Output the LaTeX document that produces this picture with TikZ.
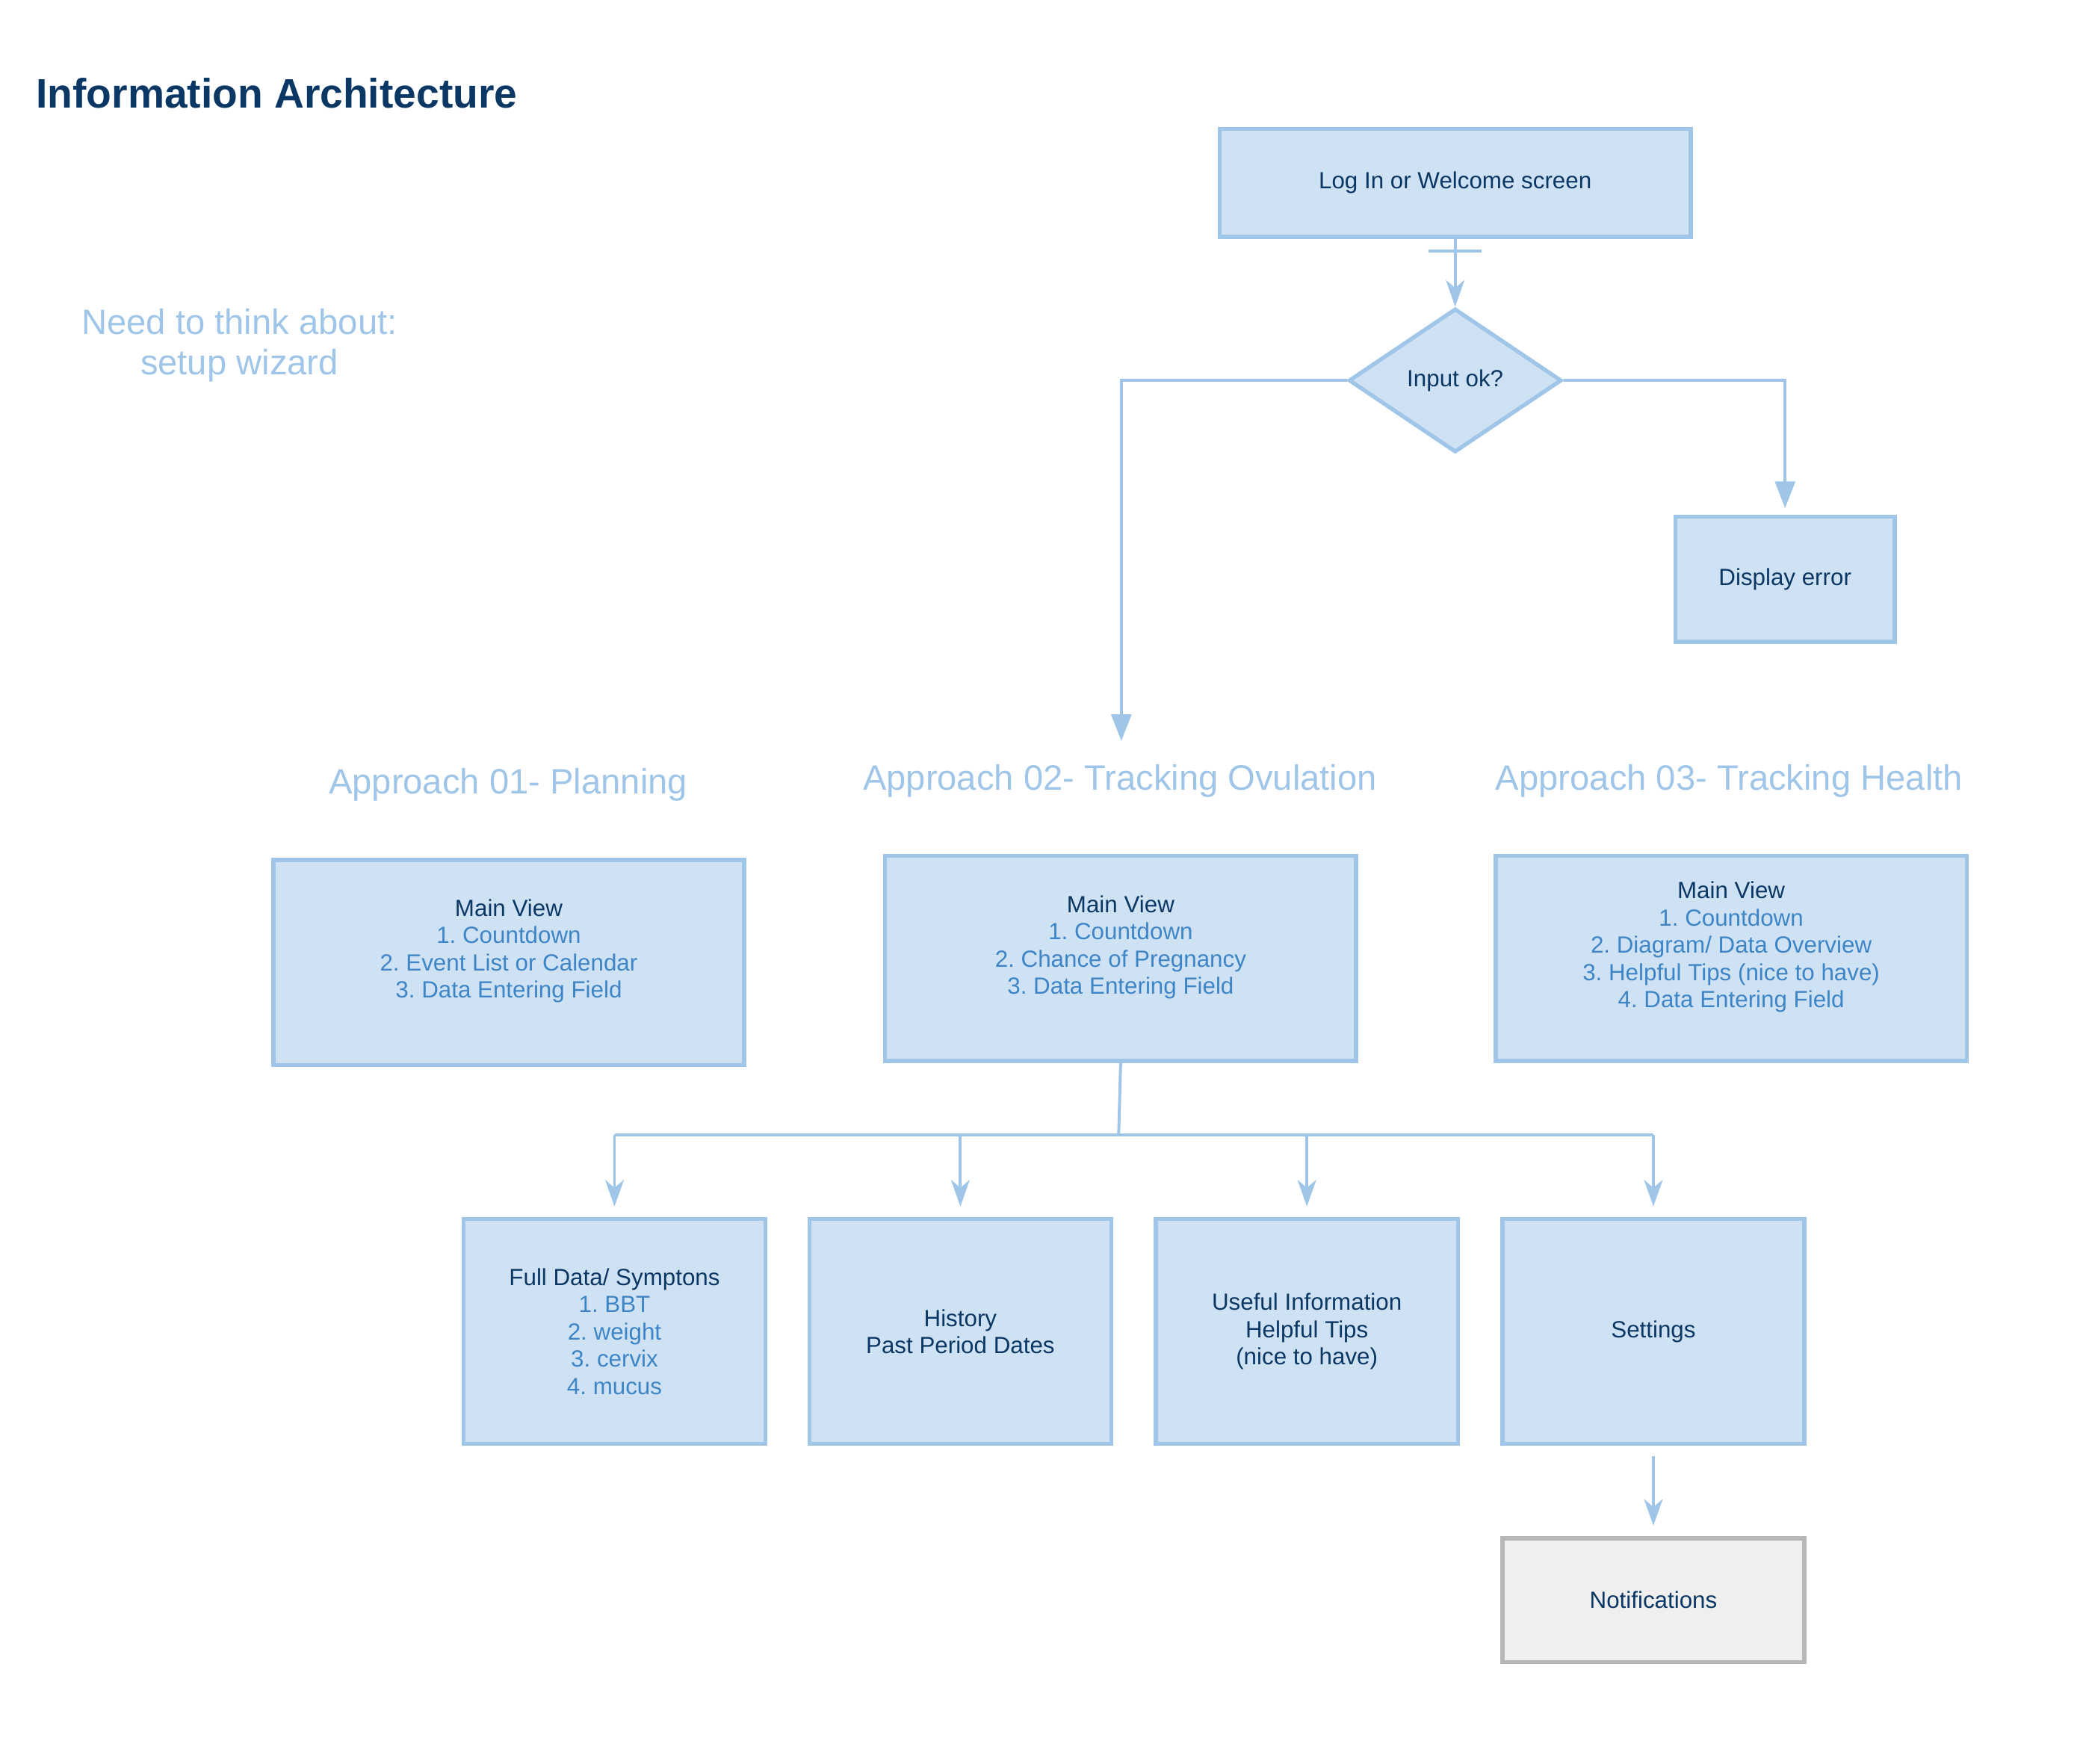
\documentclass[tikz,border=0pt]{standalone}
\usepackage{fontspec}
\setmainfont{Liberation Sans}
\usetikzlibrary{shapes.geometric,arrows.meta,calc}
\definecolor{boxfill}{HTML}{CFE2F3}
\definecolor{boxline}{HTML}{9FC5E8}
\definecolor{darktext}{HTML}{0B3765}
\definecolor{itemtext}{HTML}{3D85C6}
\definecolor{apptext}{HTML}{9FC5E8}
\definecolor{greyfill}{HTML}{EFEFEF}
\definecolor{greyline}{HTML}{B7B7B7}
\frenchspacing
\begin{document}
\begin{tikzpicture}[x=1pt,y=-1pt,
  box/.style={draw=boxline, fill=boxfill, line width=3pt, rectangle, inner sep=0pt,
    align=center, text=darktext, font=\fontsize{17.6}{20.5}\selectfont},
  greybox/.style={box, draw=greyline, fill=greyfill},
  decision/.style={box, diamond, aspect=1.48},
  apptitle/.style={anchor=base, text=apptext, font=\fontsize{26.5}{30}\selectfont},
  conn/.style={draw=boxline, line width=2.2pt},
  barb/.style={conn, -{Stealth[length=20pt,width=14pt,inset=6pt]}},
  tri/.style={conn, -{Triangle[length=20pt,width=15pt]}}
]
\useasboundingbox (0,0) rectangle (1566,1325.6);

% title and notes
\node[anchor=base west, inner sep=0pt, text=darktext, font=\bfseries\fontsize{31}{36}\selectfont]
  (title) at (27,81) {Information Architecture};
\node[align=center, inner sep=0pt, text=apptext, font=\fontsize{26.5}{30}\selectfont]
  (note) at (180,259.6) {Need to think about:\\setup wizard};

% top flow
\node[box, minimum width=354pt, minimum height=81pt] (login) at (1094,137.5) {Log In or Welcome screen};
\node[decision, minimum width=160pt, minimum height=108pt] (dia) at (1094,286) {Input ok?};
\node[box, minimum width=165pt, minimum height=94pt] (err) at (1342,435.5) {Display error};

\draw[barb] (login.south) -- (dia.north);
\coordinate (barL) at ($(login.south)+(-20,9)$);
\coordinate (barR) at ($(login.south)+(20,9)$);
\draw[conn] (barL) -- (barR);

\coordinate (a2in) at (843,557);
\draw[tri] (dia.west) -| (a2in);
\draw[tri, shorten >=5pt] (dia.east) -| (err.north);

% approach titles
\node[apptitle] (t1) at (382,597) {Approach 01- Planning};
\node[apptitle] (t2) at (842,594) {Approach 02- Tracking Ovulation};
\node[apptitle] (t3) at (1300,594) {Approach 03- Tracking Health};

% main views
\node[box, minimum width=354pt, minimum height=154pt] (a1) at (382.5,723.5)
  {Main View\\\textcolor{itemtext}{1. Countdown}\\\textcolor{itemtext}{2. Event List or Calendar}\\\textcolor{itemtext}{3. Data Entering Field}\\\mbox{}};
\node[box, minimum width=354pt, minimum height=154pt] (a2) at (842.5,720.5)
  {Main View\\\textcolor{itemtext}{1. Countdown}\\\textcolor{itemtext}{2. Chance of Pregnancy}\\\textcolor{itemtext}{3. Data Entering Field}\\\mbox{}};
\node[box, minimum width=354pt, minimum height=154pt] (a3) at (1301.5,720.5)
  {Main View\\\textcolor{itemtext}{1. Countdown}\\\textcolor{itemtext}{2. Diagram/ Data Overview}\\\textcolor{itemtext}{3. Helpful Tips (nice to have)}\\\textcolor{itemtext}{4. Data Entering Field}\\\mbox{}};

% sub screens
\node[box, minimum width=227pt, minimum height=169pt] (b1) at (462,1001)
  {Full Data/ Symptons\\\textcolor{itemtext}{1. BBT}\\\textcolor{itemtext}{2. weight}\\\textcolor{itemtext}{3. cervix}\\\textcolor{itemtext}{4. mucus}};
\node[box, minimum width=227pt, minimum height=169pt] (b2) at (722,1001)
  {History\\Past Period Dates};
\node[box, minimum width=227pt, minimum height=169pt] (b3) at (982.5,1001)
  {Useful Information\\Helpful Tips\\(nice to have)};
\node[box, minimum width=227pt, minimum height=169pt] (b4) at (1243,1001)
  {Settings};
\node[greybox, minimum width=227pt, minimum height=93pt] (notif) at (1243,1203)
  {Notifications};

\coordinate (bus) at (841,853);
\draw[conn] (a2.south) -- (bus);
\draw[conn] (b1.north |- bus) -- (b4.north |- bus);
\foreach \b in {b1,b2,b3,b4}
  \draw[barb, shorten >=8pt] (\b.north |- bus) -- (\b.north);
\draw[barb, shorten <=8pt, shorten >=8pt] (b4.south) -- (notif.north);
\end{tikzpicture}
\end{document}
